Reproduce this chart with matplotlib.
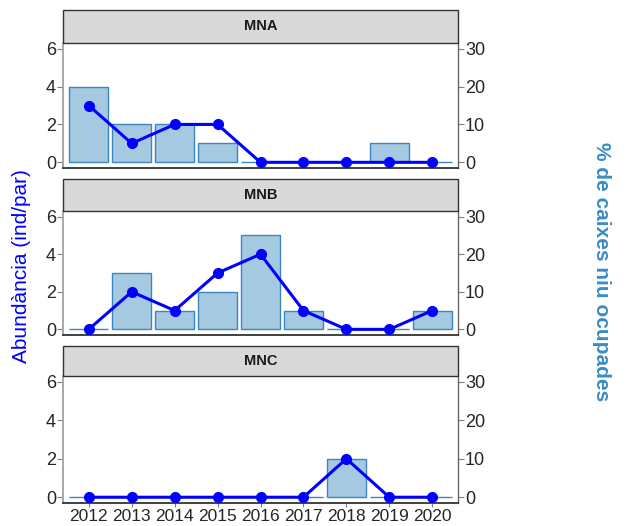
import matplotlib
matplotlib.use("Agg")
import matplotlib.pyplot as plt
from matplotlib.patches import Rectangle

# ---------------------------------------------------------
# Data
# ---------------------------------------------------------
years = ["2012", "2013", "2014", "2015", "2016", "2017", "2018", "2019", "2020"]
sites = ["MNA", "MNB", "MNC"]

# % de caixes niu ocupades (bars, right axis)
occ_mna = [20, 10, 10, 5, 0, 0, 0, 5, 0]
occ_mnb = [0, 15, 5, 10, 25, 5, 0, 0, 5]
occ_mnc = [0, 0, 0, 0, 0, 0, 10, 0, 0]

# Abundancia (ind/par) (line, left axis)
abund_mna = [3, 1, 2, 2, 0, 0, 0, 0, 0]
abund_mnb = [0, 2, 1, 3, 4, 1, 0, 0, 1]
abund_mnc = [0, 0, 0, 0, 0, 0, 2, 0, 0]

occ = [occ_mna, occ_mnb, occ_mnc]
abund = [abund_mna, abund_mnb, abund_mnc]

# ---------------------------------------------------------
# Layout (pixel boxes of each panel)
# ---------------------------------------------------------
W, H = 629, 526
panels = [(43, 168, 33), (211, 335, 32), (376, 503, 30)]  # top, bottom, strip height
x0, x1 = 63, 458

font = "Liberation Sans"
tick_col = "#262626"

fig = plt.figure(figsize=(W / 100, H / 100), dpi=100)
xs = list(range(1, len(years) + 1))

for i, (top, bot, sh) in enumerate(panels):
    ax = fig.add_axes([x0 / W, 1 - bot / H, (x1 - x0) / W, (bot - top) / H])
    ax2 = ax.twinx()

    # bars on the right-hand scale, underneath
    ax2.bar(xs, occ[i], width=0.9, color="#a6c9e2", edgecolor="#3a86c0",
            linewidth=1.0)
    ax2.set_ylim(-1.5, 31.5)
    ax2.set_yticks([0, 10, 20, 30])

    # line on the left-hand scale, on top
    ax.set_zorder(ax2.get_zorder() + 1)
    ax.patch.set_visible(False)
    ax.plot(xs, abund[i], color="blue", linewidth=2.2, marker="o",
            markersize=7, zorder=5)
    ax.set_ylim(-0.3, 6.3)
    ax.set_yticks([0, 2, 4, 6])
    ax.set_xlim(0.4, 9.6)
    ax.set_xticks(xs)

    for a in (ax, ax2):
        for s in a.spines.values():
            s.set_visible(False)
        a.tick_params(axis="y", length=4, width=0.8, color="#7f7f7f",
                      labelsize=13, labelcolor=tick_col, pad=1)
        for lab in a.get_yticklabels():
            lab.set_family(font)
    ax.spines["left"].set_visible(True)
    ax.spines["left"].set_color("#a8a8a8")
    ax.spines["left"].set_linewidth(1.4)
    ax.spines["bottom"].set_visible(True)
    ax.spines["bottom"].set_color("#333333")
    ax.spines["bottom"].set_linewidth(1.3)
    ax2.spines["right"].set_visible(True)
    ax2.spines["right"].set_color("#666666")
    ax2.spines["right"].set_linewidth(1.0)

    if i == len(panels) - 1:
        ax.set_xticklabels(years, fontsize=12.5, color=tick_col, family=font)
        ax.tick_params(axis="x", length=3, color="#7f7f7f", pad=1)
    else:
        ax.set_xticklabels([])
        ax.tick_params(axis="x", length=0)

    # facet strip
    hfrac = sh / (bot - top)
    ax.add_patch(Rectangle((0, 1), 1, hfrac, transform=ax.transAxes,
                           facecolor="#d9d9d9", edgecolor="#333333",
                           linewidth=1.0, clip_on=False, zorder=10))
    ax.text(0.5, 1 + hfrac / 2, sites[i], transform=ax.transAxes,
            ha="center", va="center", fontsize=10.5, fontweight="bold",
            color="#1a1a1a", family=font, zorder=11)

fig.text(22 / W, 1 - 266 / H, "Abundància (ind/par)", rotation=90,
         ha="center", va="center", fontsize=15, color="blue", family=font)
fig.text(602 / W, 1 - 272 / H, "% de caixes niu ocupades", rotation=270,
         ha="center", va="center", fontsize=15, fontweight="bold",
         color="#3a8cc6", family=font)

fig.savefig("out.png", dpi=100)
